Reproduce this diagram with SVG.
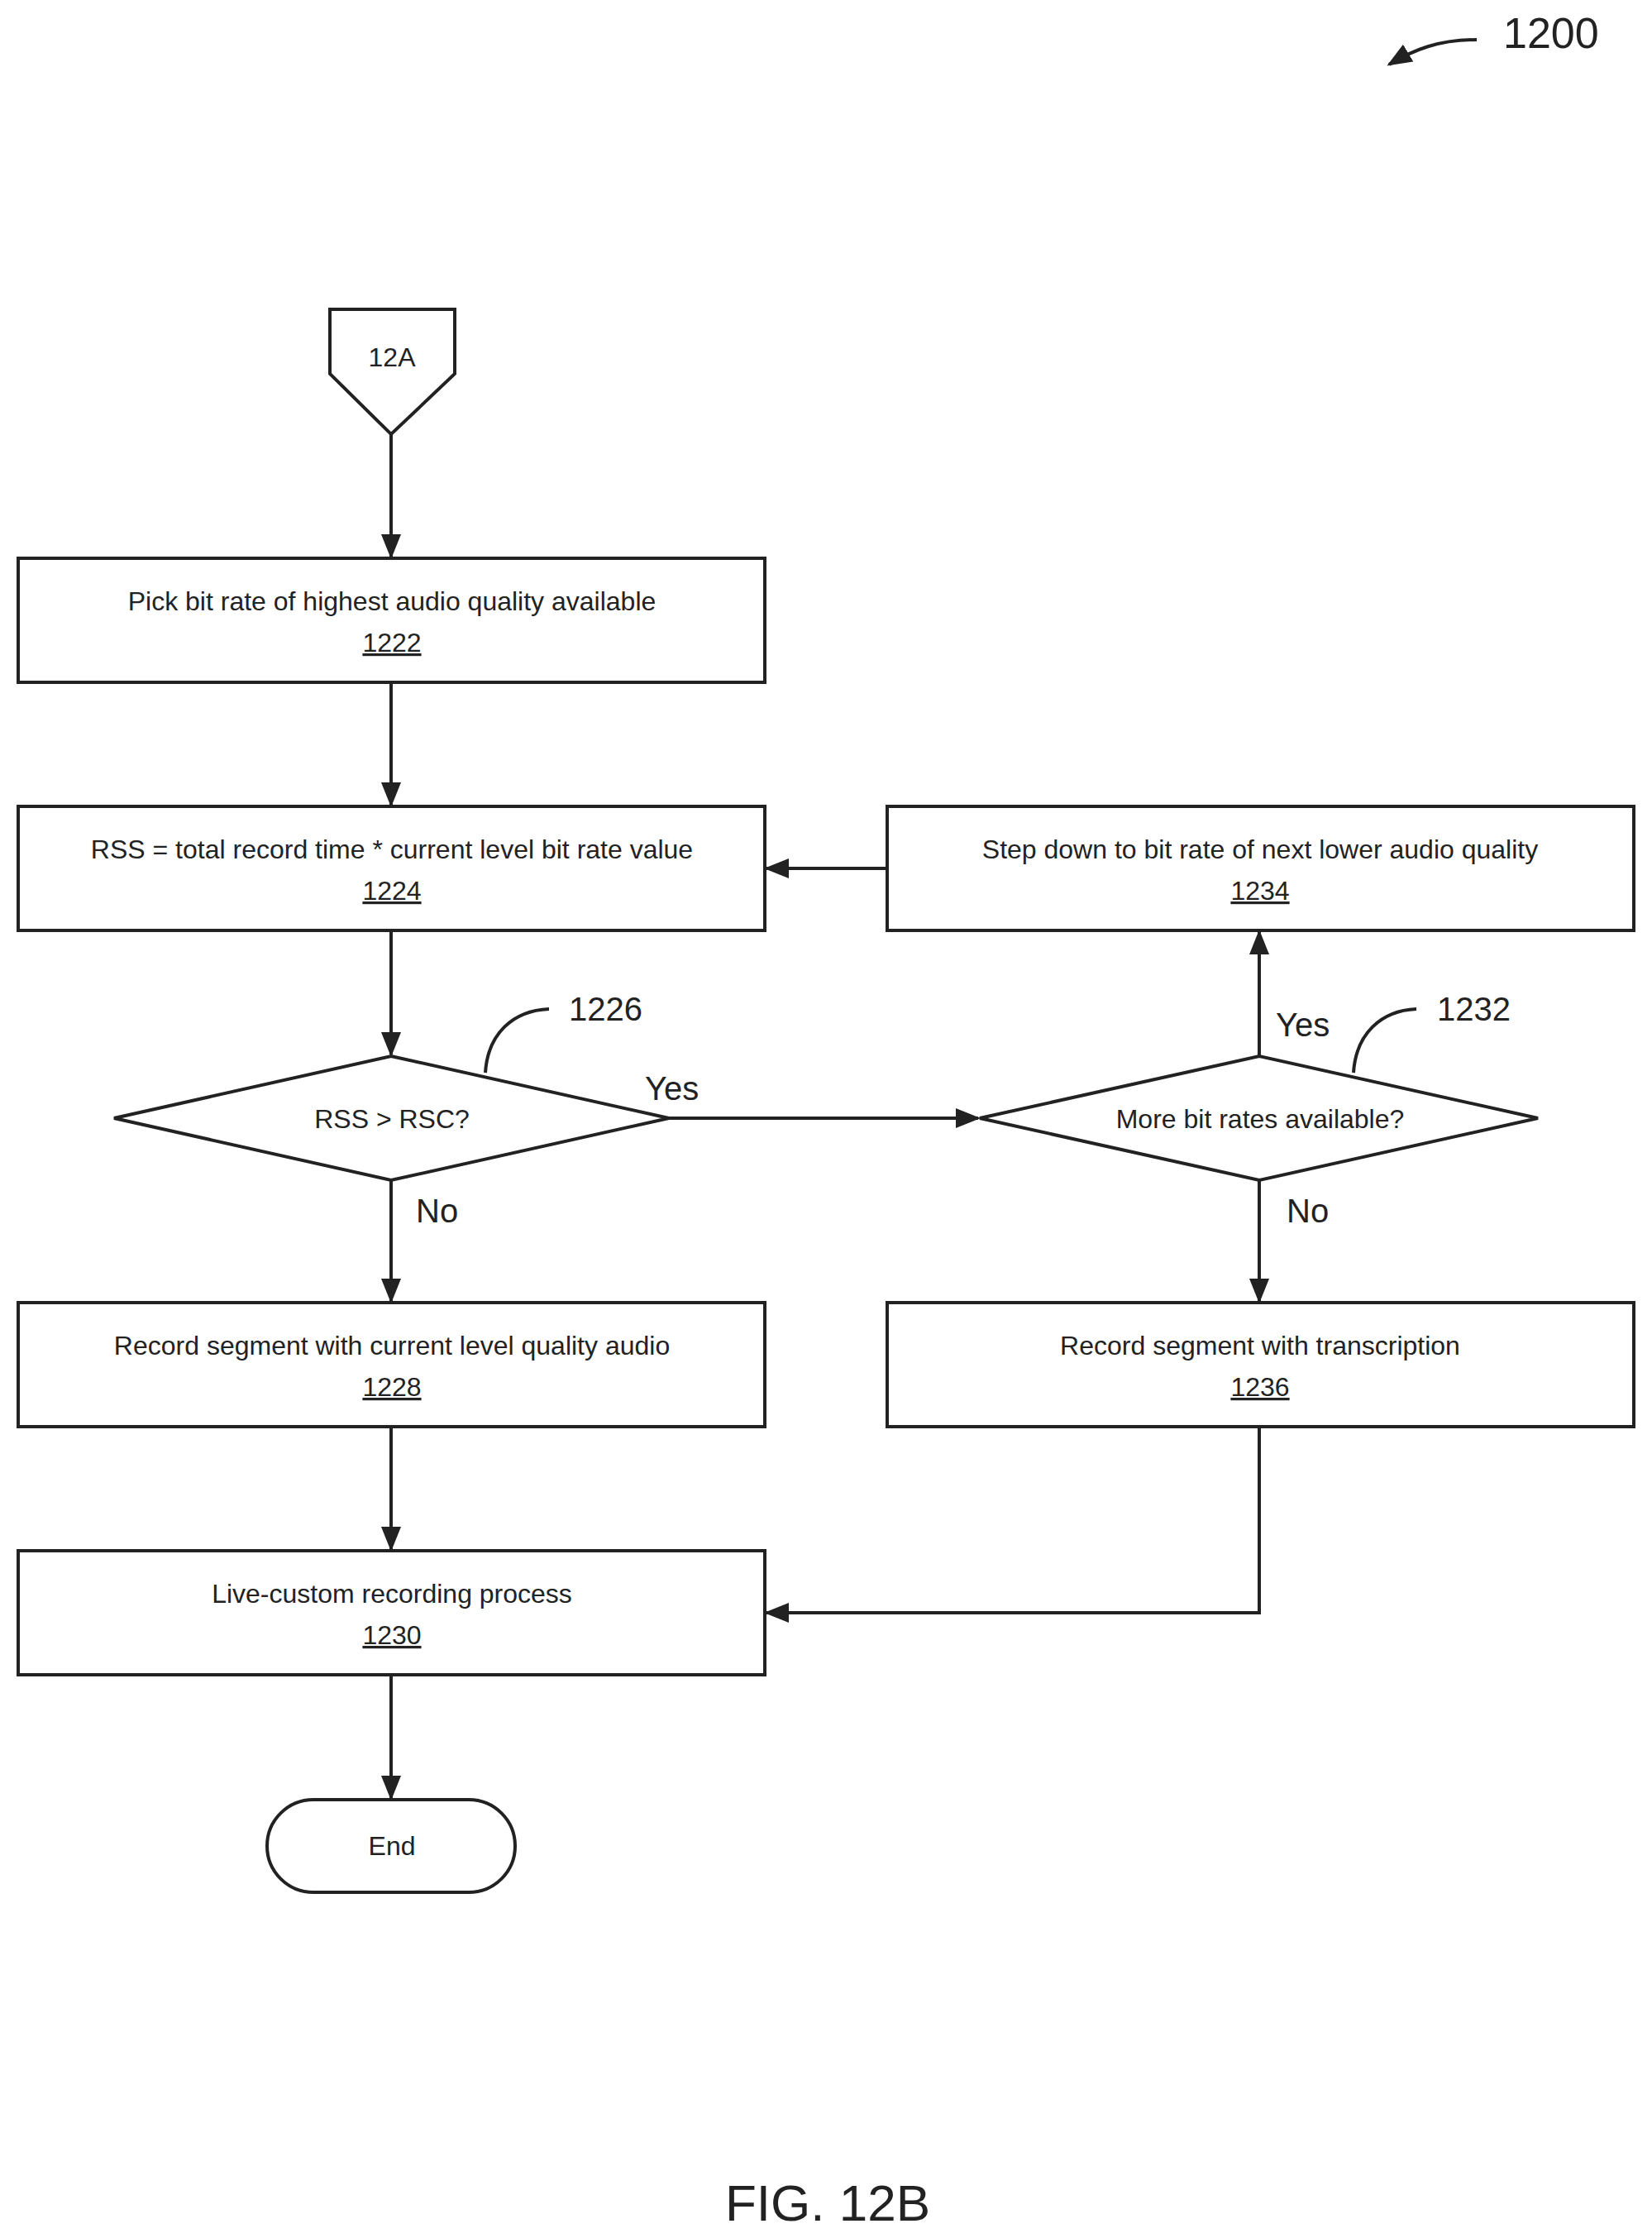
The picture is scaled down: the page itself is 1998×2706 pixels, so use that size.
<svg xmlns="http://www.w3.org/2000/svg" width="1998" height="2706" viewBox="0 0 1998 2706">
<style>
.s{fill:#fff;stroke:#222;stroke-width:4}
.t{font-family:"Liberation Sans",Arial,sans-serif;font-size:32px;fill:#222;text-anchor:middle}
.l{font-family:"Liberation Sans",Arial,sans-serif;font-size:40px;fill:#222}
.u{text-decoration:underline}
.c{fill:none;stroke:#222;stroke-width:4}
</style>
<defs><marker id="a" markerWidth="10" markerHeight="10" refX="9" refY="5" orient="auto" markerUnits="userSpaceOnUse" viewBox="0 0 10 10"><path d="M0,0 L10,5 L0,10 z" fill="#222"/></marker>
<marker id="b" viewBox="0 0 10 10" refX="9" refY="5" markerWidth="30" markerHeight="30" markerUnits="userSpaceOnUse" orient="auto"><path d="M0,1 L10,5 L0,9 z" fill="#222"/></marker></defs>
<rect width="1998" height="2706" fill="#fff"/>
<g id="n12A"><path class="s" d="M399,374 H550 V452 L473,525 L399,452 Z"/><text class="t" x="474" y="443">12A</text></g>
<g id="n1222"><rect class="s" x="22" y="675" width="903" height="150"/><text class="t" x="474" y="738">Pick bit rate of highest audio quality available</text><text class="t u" x="474" y="788">1222</text></g>
<g id="n1224"><rect class="s" x="22" y="975" width="903" height="150"/><text class="t" x="474" y="1038">RSS = total record time * current level bit rate value</text><text class="t u" x="474" y="1088">1224</text></g>
<g id="n1234"><rect class="s" x="1073" y="975" width="903" height="150"/><text class="t" x="1524" y="1038">Step down to bit rate of next lower audio quality</text><text class="t u" x="1524" y="1088">1234</text></g>
<g id="n1226"><path class="s" d="M473,1277 L809,1352 L473,1427 L138,1352 Z"/><text class="t" x="474" y="1364">RSS &gt; RSC?</text></g>
<g id="n1232"><path class="s" d="M1523,1277 L1860,1352 L1523,1427 L1185,1352 Z"/><text class="t" x="1524" y="1364">More bit rates available?</text></g>
<g id="n1228"><rect class="s" x="22" y="1575" width="903" height="150"/><text class="t" x="474" y="1638">Record segment with current level quality audio</text><text class="t u" x="474" y="1688">1228</text></g>
<g id="n1236"><rect class="s" x="1073" y="1575" width="903" height="150"/><text class="t" x="1524" y="1638">Record segment with transcription</text><text class="t u" x="1524" y="1688">1236</text></g>
<g id="n1230"><rect class="s" x="22" y="1875" width="903" height="150"/><text class="t" x="474" y="1938">Live-custom recording process</text><text class="t u" x="474" y="1988">1230</text></g>
<g id="nEnd"><rect class="s" x="323" y="2176" width="300" height="112" rx="56"/><text class="t" x="474" y="2243">End</text></g>
<g id="connectors">
<path class="c" d="M473,525 V673" marker-end="url(#b)"/>
<path class="c" d="M473,825 V973" marker-end="url(#b)"/>
<path class="c" d="M473,1125 V1275" marker-end="url(#b)"/>
<path class="c" d="M809,1352 H1183" marker-end="url(#b)"/>
<path class="c" d="M1523,1277 V1127" marker-end="url(#b)"/>
<path class="c" d="M1073,1050 H927" marker-end="url(#b)"/>
<path class="c" d="M473,1427 V1573" marker-end="url(#b)"/>
<path class="c" d="M1523,1427 V1573" marker-end="url(#b)"/>
<path class="c" d="M473,1725 V1873" marker-end="url(#b)"/>
<path class="c" d="M1523,1725 V1950 H927" marker-end="url(#b)"/>
<path class="c" d="M473,2025 V2174" marker-end="url(#b)"/>
<path class="c" d="M587,1297 C590,1250 620,1222 664,1220"/>
<path class="c" d="M1637,1297 C1640,1250 1670,1222 1713,1220"/>
<path class="c" d="M1786,48 C1740,48 1710,60 1680,78" marker-end="url(#b)"/>
</g>
<text class="l" x="780" y="1330">Yes</text>
<text class="l" x="1543" y="1253">Yes</text>
<text class="l" x="503" y="1478">No</text>
<text class="l" x="1556" y="1478">No</text>
<text class="l" x="688" y="1234">1226</text>
<text class="l" x="1738" y="1234">1232</text>
<text class="l" x="1818" y="58" style="font-size:52px">1200</text>
<text class="l" x="1001" y="2685" style="font-size:62px;text-anchor:middle">FIG. 12B</text>
</svg>
